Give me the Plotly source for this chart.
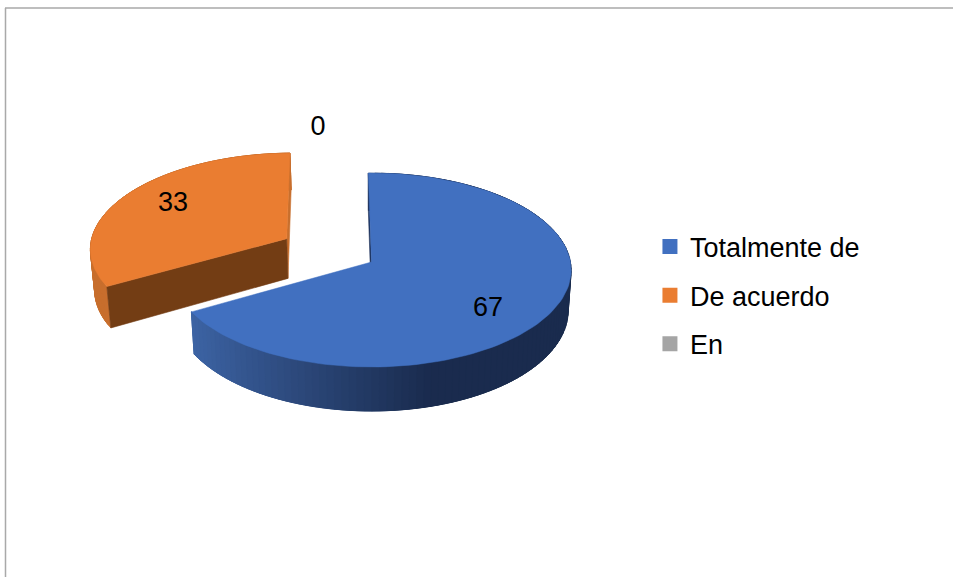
import numpy as np
import plotly.graph_objects as go

# Data
categories = ["Totalmente de", "De acuerdo", "En"]
values = [67, 33, 0]
colors = ["#4170C0", "#EA7D31", "#A5A5A5"]
wall_colors = ["#1C315A", "#733D14", "#555555"]
explode = [0.0, 0.5, 0.0]

# Projection of the 3D pie into the page-sized axes
CX, CY = 371.5, 262.0
R, A, B = 199.0, 96.3, 0.0825
H, SHRINK = 40.5, 0.985
START = -1.0
LABEL_XY = [(488, 309), (173, 204), (318, 128)]
FONT = "Liberation Sans, Arial, sans-serif"
FS = 27


def project(u, v, lower=False):
    u, v = np.asarray(u, float), np.asarray(v, float)
    d = 1 - B * v
    x = R * u / d
    y = CY + A * v / d
    if lower:
        x = x * SHRINK
        y = y + H / d
    return CX + x, y


def poly(xs, ys, color, lw=0.6):
    return go.Scatter(x=list(xs), y=list(ys), mode="lines", fill="toself", fillcolor=color,
                      line=dict(color=color, width=lw), hoverinfo="skip", showlegend=False)


def mix(c1, c2, f):
    f = max(0.0, min(1.0, f))
    return "rgb(%d,%d,%d)" % tuple(round(a + (b - a) * f) for a, b in zip(c1, c2))


fig = go.Figure()
total = sum(values)
a0 = START
slices = []
for val, col, wall, ex in zip(values, colors, wall_colors, explode):
    a1 = a0 + val / total * 360
    slices.append((val, col, wall, ex, a0, a1))
    a0 = a1

# Draw orange (back) before blue (front)
for i in (1, 0):
    val, col, wall, ex, s, e = slices[i]
    t = np.radians(np.linspace(s, e, 121))
    mid = np.radians((s + e) / 2)
    ou, ov = ex * np.sin(mid), -ex * np.cos(mid)
    u, v = ou + np.sin(t), ov - np.cos(t)
    xt, yt = project(u, v)
    xb, yb = project(u, v, lower=True)
    ax, ay = project(ou, ov)
    bx, by = project(ou, ov, lower=True)

    # Outer curved side, shaded along x. Painted from the far end so that each
    # band overlaps its neighbour and no seams show.
    n = len(t)
    for k in range(n - 2, -1, -1):
        if i == 0:
            frac = (xt[k] - 192) / (455 - 192)
            c = mix((62, 102, 168), (26, 43, 78), frac)
        else:
            c = "rgb(200,110,45)"
        j = min(k + 4, n - 1)
        fig.add_trace(poly([xt[k], xt[j], xb[j], xb[k], xt[k]],
                           [yt[k], yt[j], yb[j], yb[k], yt[k]], c))
    if i == 1:
        # Far radial wall (thin sliver) then near radial wall (dark brown)
        fig.add_trace(poly([xt[-1], ax, bx, xb[-1], xt[-1]], [yt[-1], ay, by, yb[-1], yt[-1]], "#C86F2D"))
        fig.add_trace(poly([xt[0], ax, bx, xb[0], xt[0]], [yt[0], ay, by, yb[0], yt[0]], wall))
    else:
        fig.add_trace(poly([xt[0], ax, bx, xb[0], xt[0]], [yt[0], ay, by, yb[0], yt[0]], wall))
    # Top face
    fig.add_trace(poly(list(xt) + [ax, xt[0]], list(yt) + [ay, yt[0]], col, lw=0.5))

# Data labels
fig.add_trace(go.Scatter(x=[p[0] for p in LABEL_XY], y=[p[1] for p in LABEL_XY],
                         mode="text", text=[str(v) for v in values],
                         textposition="middle center",
                         textfont=dict(family=FONT, size=FS, color="#000000"),
                         hoverinfo="skip", showlegend=False))

# Legend entries
for name, col in zip(categories, colors):
    fig.add_trace(go.Scatter(x=[None], y=[None], mode="markers", name=name, legendgroup=name,
                             marker=dict(symbol="square", size=15, color=col)))

fig.update_layout(
    width=953, height=577, margin=dict(l=0, r=0, t=0, b=0),
    paper_bgcolor="white", plot_bgcolor="white",
    xaxis=dict(range=[0, 953], visible=False, fixedrange=True),
    yaxis=dict(range=[577, 0], visible=False, fixedrange=True),
    legend=dict(x=0.682, y=0.6143, xanchor="left", yanchor="top", tracegroupgap=10.5,
                font=dict(family=FONT, size=FS, color="#000000"),
                bgcolor="rgba(0,0,0,0)", itemwidth=30),
    shapes=[
        dict(type="line", xref="x", yref="y", x0=5, x1=953, y0=8, y1=8, line=dict(color="#A9A9A9", width=1.5)),
        dict(type="line", xref="x", yref="y", x0=5.5, x1=5.5, y0=8, y1=577, line=dict(color="#A9A9A9", width=1.5)),
    ],
)
fig.write_html("out.html", config={"displayModeBar": False},
               post_script="document.body.style.margin='0';document.body.style.overflow='hidden';")
